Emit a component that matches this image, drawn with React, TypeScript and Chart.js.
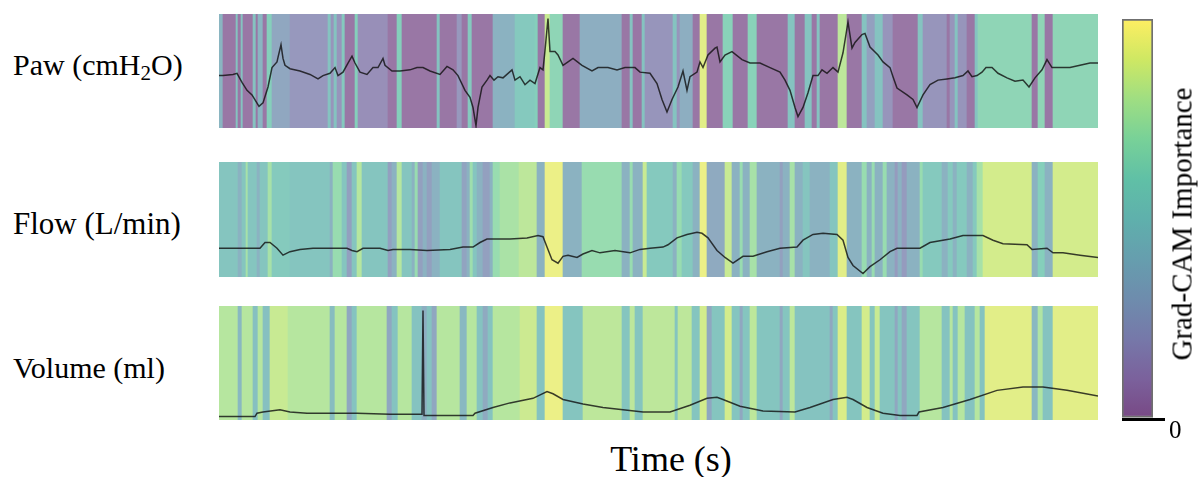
import React, { useEffect, useRef } from 'react';
import { Chart, registerables } from 'chart.js';

Chart.register(...registerables);

// ---------- data ----------
const TIME_MAX = 879; // samples across the window

// Grad-CAM importance: segment start (sample) and importance (0..1)
const pawStarts = [0,4,17,19,22,24,34,37,39,44,48,53,71,109,112,115,118,123,126,136,139,169,178,183,218,221,238,243,249,253,274,296,316,319,326,331,344,361,403,411,414,423,426,454,458,461,474,481,488,504,514,529,538,569,576,586,593,598,601,619,628,643,648,656,664,674,699,704,728,731,736,739,748,756,759,813,819,826,834];
const pawImportance = [0.4,0.02,0.5,0.02,0.5,0.02,0.5,0.02,0.4,0.02,0.6,0.3,0.2,0.5,0.18,0.5,0.18,0.55,0.02,0.6,0.15,0.02,0.6,0.02,0.5,0.02,0.2,0.02,0.55,0.02,0.38,0.55,0.6,0.02,0.85,0.65,0.02,0.35,0.02,0.5,0.02,0.5,0.18,0.5,0.18,0.35,0.02,0.92,0.02,0.62,0.02,0.62,0.02,0.5,0.02,0.5,0.02,0.5,0.02,0.82,0.02,0.5,0.25,0.5,0.18,0.02,0.5,0.18,0.02,0.18,0.5,0.18,0.02,0.5,0.65,0.02,0.65,0.02,0.65];

const flowStarts = [0,19,23,27,29,38,41,49,53,71,111,114,123,128,133,138,143,169,173,178,183,193,196,199,204,208,213,221,243,248,251,254,258,264,271,274,281,300,318,326,344,363,403,411,414,424,428,454,458,463,474,481,488,506,513,521,524,531,538,561,564,571,576,584,591,611,619,628,643,648,653,656,664,668,676,679,683,688,701,704,723,729,734,738,748,754,758,764,813,819,826,834];
const flowImportance = [0.52,0.38,0.52,0.75,0.52,0.38,0.52,0.75,0.56,0.52,0.38,0.7,0.52,0.25,0.52,0.8,0.52,0.25,0.38,0.8,0.52,0.38,0.7,0.25,0.38,0.25,0.38,0.52,0.28,0.38,0.72,0.52,0.38,0.25,0.38,0.7,0.76,0.82,0.38,0.95,0.38,0.7,0.38,0.7,0.38,0.85,0.55,0.38,0.7,0.55,0.38,0.95,0.32,0.85,0.38,0.7,0.38,0.75,0.38,0.25,0.38,0.75,0.38,0.52,0.38,0.52,0.92,0.38,0.7,0.38,0.7,0.38,0.7,0.38,0.22,0.38,0.22,0.38,0.7,0.55,0.38,0.55,0.38,0.55,0.38,0.55,0.75,0.88,0.38,0.6,0.38,0.88];

const volumeStarts = [0,19,23,34,39,44,51,69,111,116,128,133,138,168,173,179,193,203,208,213,218,241,248,258,264,269,274,301,318,326,344,364,403,411,416,424,456,459,473,481,488,493,506,513,521,524,531,538,561,564,571,576,611,614,619,628,643,651,656,661,676,679,683,688,701,723,731,734,739,746,756,761,766,813,819,824,834];
const volumeImportance = [0.8,0.42,0.8,0.48,0.8,0.48,0.85,0.8,0.45,0.8,0.3,0.5,0.8,0.3,0.5,0.8,0.5,0.35,0.5,0.3,0.8,0.42,0.8,0.5,0.32,0.5,0.8,0.86,0.5,0.95,0.52,0.82,0.52,0.82,0.52,0.82,0.52,0.82,0.52,0.88,0.3,0.52,0.88,0.52,0.3,0.52,0.82,0.52,0.3,0.52,0.82,0.5,0.3,0.52,0.9,0.52,0.88,0.52,0.85,0.52,0.3,0.52,0.3,0.52,0.8,0.5,0.8,0.5,0.8,0.5,0.8,0.5,0.92,0.42,0.78,0.5,0.92];

// Signal traces: [sample, value in % of panel range]
const pawTrace = [[0,46],[4,46],[14,47],[18,48],[23,40],[28,33],[33,29],[40,19],[44,22],[49,36],[53,53],[58,58],[59,62],[62,73],[64,61],[66,55],[71,52],[81,50],[91,47],[99,43],[104,46],[111,48],[116,53],[119,46],[124,49],[129,57],[133,63],[136,57],[141,49],[148,47],[154,53],[159,53],[164,61],[166,55],[173,50],[181,50],[191,51],[198,53],[204,53],[211,50],[221,47],[228,54],[234,51],[239,46],[246,33],[251,27],[254,18],[257,2],[259,18],[263,36],[268,42],[271,46],[275,42],[279,45],[284,44],[293,51],[296,42],[301,45],[306,38],[311,42],[316,39],[321,53],[324,51],[326,68],[329,96],[331,67],[336,67],[339,64],[344,55],[354,61],[363,55],[373,50],[379,53],[389,53],[398,51],[406,53],[416,53],[421,49],[431,48],[438,39],[443,25],[448,14],[453,25],[459,36],[464,50],[468,33],[471,45],[478,49],[481,58],[484,53],[489,64],[496,70],[498,71],[501,58],[506,64],[513,67],[523,60],[531,57],[541,57],[551,53],[561,49],[566,42],[571,33],[576,18],[579,10],[584,18],[589,31],[594,46],[599,46],[603,51],[608,48],[614,53],[619,49],[624,66],[629,93],[633,70],[636,75],[643,82],[646,83],[651,71],[659,64],[664,58],[671,53],[674,45],[678,35],[688,29],[694,25],[698,18],[704,29],[711,38],[719,42],[728,43],[736,44],[744,46],[749,50],[753,45],[758,46],[763,49],[767,53],[773,53],[779,48],[788,44],[796,41],[804,42],[810,36],[816,44],[823,51],[828,60],[833,53],[841,53],[851,53],[861,55],[871,57],[879,57]];

const flowTrace = [[0,25],[41,25],[46,30],[51,30],[58,25],[64,19],[71,22],[81,24],[94,25],[128,25],[133,23],[138,22],[144,25],[161,25],[169,23],[174,24],[191,24],[208,23],[231,24],[244,26],[254,26],[261,30],[268,33],[291,33],[308,34],[319,36],[324,35],[328,26],[333,15],[339,12],[344,18],[349,19],[358,17],[364,20],[373,23],[381,21],[396,23],[411,21],[421,24],[431,25],[444,26],[449,28],[458,34],[468,37],[478,39],[483,38],[489,34],[498,23],[506,17],[514,12],[524,18],[534,18],[548,22],[561,25],[578,26],[584,32],[594,37],[604,38],[618,37],[624,32],[629,17],[634,10],[644,3],[651,9],[661,15],[671,22],[678,25],[701,25],[711,30],[731,33],[744,36],[764,36],[774,32],[784,29],[808,28],[813,24],[828,25],[834,21],[844,21],[861,19],[879,17]];

const volumeTrace = [[0,3],[36,3],[38,6],[44,7],[61,9],[71,7],[88,6],[138,6],[171,5],[203,5],[204,96],[205,4],[224,4],[254,4],[256,6],[274,11],[291,15],[314,19],[328,25],[334,23],[344,18],[364,14],[384,11],[404,9],[424,7],[451,7],[471,13],[488,19],[498,20],[504,18],[521,12],[544,8],[576,7],[591,11],[614,18],[628,20],[634,18],[648,11],[664,6],[681,4],[698,4],[700,7],[724,11],[751,18],[778,26],[804,29],[824,29],[848,26],[879,21]];

const colorbarTicks = [0];

// ---------- colour helpers ----------
const VIRIDIS = [[68,1,84],[72,36,117],[65,68,135],[53,95,141],[42,120,142],[33,145,140],[34,168,132],[68,191,112],[122,209,81],[189,223,38],[253,231,37]];

function viridis(v: number, alpha: number): string {
  const x = Math.max(0, Math.min(1, v)) * (VIRIDIS.length - 1);
  const i = Math.min(Math.floor(x), VIRIDIS.length - 2);
  const f = x - i;
  const c = [0, 1, 2].map((k) => VIRIDIS[i][k] + (VIRIDIS[i + 1][k] - VIRIDIS[i][k]) * f);
  const b = c.map((ch) => Math.round(255 - alpha * (255 - ch)));
  return `rgb(${b[0]},${b[1]},${b[2]})`;
}

const SERIF = "'Liberation Serif', 'Times New Roman', serif";

// ---------- panel ----------
function Panel(props: { starts: number[]; importance: number[]; trace: number[][]; top: number; height: number }) {
  const { starts, importance, trace, top, height } = props;
  const ref = useRef<HTMLCanvasElement | null>(null);
  useEffect(() => {
    if (!ref.current) return;
    const segs = starts.map((s, i) => ({ x: [s, i + 1 < starts.length ? starts[i + 1] : TIME_MAX], y: 'band' }));
    const colors = importance.map((v) => viridis(v, 0.55));
    const chart = new Chart(ref.current, {
      type: 'bar',
      data: {
        datasets: [
          {
            type: 'line',
            data: trace.map(([t, v]) => ({ x: t, y: v })),
            xAxisID: 'x',
            yAxisID: 'y',
            borderColor: 'rgba(15,15,15,0.8)',
            borderWidth: 1.5,
            pointRadius: 0,
            tension: 0,
            order: 0,
          } as any,
          {
            type: 'bar',
            indexAxis: 'y',
            data: segs,
            xAxisID: 'x',
            yAxisID: 'band',
            backgroundColor: colors,
            borderWidth: 0,
            categoryPercentage: 1,
            barPercentage: 1,
            grouped: false,
            order: 1,
          } as any,
        ],
      },
      options: {
        animation: false,
        responsive: false,
        maintainAspectRatio: false,
        events: [],
        layout: { padding: 0 },
        plugins: { legend: { display: false }, tooltip: { enabled: false } },
        scales: {
          x: { type: 'linear', min: 0, max: TIME_MAX, display: false, offset: false },
          y: { type: 'linear', min: 0, max: 100, display: false },
          band: { type: 'category', axis: 'y', position: 'left', labels: ['band'], display: false, offset: true },
        } as any,
      },
    });
    return () => chart.destroy();
  }, []);
  return (
    <canvas
      ref={ref}
      width={879}
      height={height}
      style={{ position: 'absolute', left: 219, top, width: 879, height, display: 'block' }}
    />
  );
}

// ---------- colour bar ----------
function ColorBar() {
  const ref = useRef<HTMLCanvasElement | null>(null);
  useEffect(() => {
    if (!ref.current) return;
    const chart = new Chart(ref.current, {
      type: 'bar',
      data: {
        labels: ['importance'],
        datasets: [
          {
            data: [[0, 1]],
            backgroundColor: (ctx: any) => {
              const area = ctx.chart.chartArea;
              if (!area) return 'rgba(0,0,0,0)';
              const g = ctx.chart.ctx.createLinearGradient(0, area.bottom, 0, area.top);
              for (let i = 0; i < VIRIDIS.length; i++) {
                const v = i / (VIRIDIS.length - 1);
                g.addColorStop(v, viridis(v, 0.72));
              }
              return g;
            },
            borderColor: '#6f6f6f',
            borderWidth: 2,
            borderSkipped: false,
            categoryPercentage: 1,
            barPercentage: 1,
          } as any,
        ],
      },
      options: {
        animation: false,
        responsive: false,
        maintainAspectRatio: false,
        events: [],
        layout: { padding: { left: 12, top: 14, right: 0, bottom: 58 } },
        plugins: { legend: { display: false }, tooltip: { enabled: false } },
        scales: {
          x: { display: false, offset: true },
          y: {
            position: 'right',
            min: 0,
            max: 1,
            afterBuildTicks: (s: any) => {
              s.ticks = colorbarTicks.map((value) => ({ value }));
            },
            afterFit: (s: any) => {
              s.width = 48;
            },
            grid: { color: '#000', lineWidth: 3, tickLength: 12, drawOnChartArea: true, z: 1 },
            border: { display: false },
            ticks: {
              font: { family: SERIF, size: 25 },
              color: '#000',
              labelOffset: 12,
              padding: 4,
              callback: (v: any) => String(v),
            },
          },
        } as any,
      },
    });
    return () => chart.destroy();
  }, []);
  return (
    <canvas
      ref={ref}
      width={91}
      height={477}
      style={{ position: 'absolute', left: 1110, top: 0, width: 91, height: 477, display: 'block' }}
    />
  );
}

const labelStyle: React.CSSProperties = {
  position: 'absolute',
  left: 13,
  fontFamily: SERIF,
  fontSize: 30,
  lineHeight: 1,
  color: '#000',
  whiteSpace: 'nowrap',
};

export default function App() {
  return (
    <div
      style={{
        position: 'absolute',
        left: 0,
        top: 0,
        width: 1201,
        height: 477,
        background: '#fff',
        overflow: 'hidden',
      }}
    >
      <div style={{ ...labelStyle, top: 50 }}>
        Paw (cmH
        <span style={{ fontSize: '0.7em', verticalAlign: '-0.22em', lineHeight: 0 }}>2</span>
        O)
      </div>
      <div style={{ ...labelStyle, top: 208, fontSize: 31 }}>Flow (L/min)</div>
      <div style={{ ...labelStyle, top: 353 }}>Volume (ml)</div>

      <Panel starts={pawStarts} importance={pawImportance} trace={pawTrace} top={14} height={114} />
      <Panel starts={flowStarts} importance={flowImportance} trace={flowTrace} top={162} height={115} />
      <Panel starts={volumeStarts} importance={volumeImportance} trace={volumeTrace} top={306} height={114} />

      <ColorBar />
      <div
        style={{
          position: 'absolute',
          left: 1182,
          top: 224,
          transform: 'translate(-50%, -50%) rotate(-90deg)',
          fontFamily: SERIF,
          fontSize: 29,
          lineHeight: 1,
          whiteSpace: 'nowrap',
          color: '#000',
        }}
      >
        Grad-CAM Importance
      </div>

      <div
        style={{
          position: 'absolute',
          left: 671,
          top: 441,
          transform: 'translateX(-50%)',
          fontFamily: SERIF,
          fontSize: 36,
          lineHeight: 1,
          whiteSpace: 'nowrap',
          color: '#000',
        }}
      >
        Time (s)
      </div>
    </div>
  );
}
